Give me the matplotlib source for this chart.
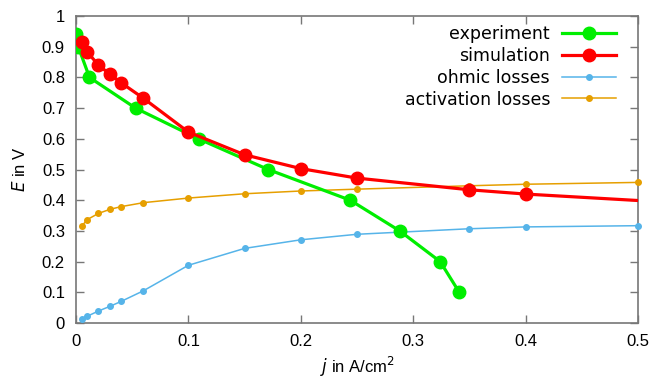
import matplotlib.pyplot as plt

# ----------------- Data -----------------
exp_j = [0.0, 0.002, 0.012, 0.053, 0.109, 0.171, 0.244, 0.288, 0.324, 0.341]
exp_E = [0.94, 0.90, 0.80, 0.70, 0.60, 0.50, 0.40, 0.30, 0.20, 0.10]

sim_j = [0.005, 0.01, 0.02, 0.03, 0.04, 0.06, 0.1, 0.15, 0.2, 0.25, 0.35, 0.4, 0.5]
sim_E = [0.915, 0.883, 0.840, 0.811, 0.783, 0.732, 0.622, 0.548, 0.503, 0.472, 0.434, 0.420, 0.399]

loss_j = [0.005, 0.01, 0.02, 0.03, 0.04, 0.06, 0.1, 0.15, 0.2, 0.25, 0.35, 0.4, 0.5]
ohmic = [0.012, 0.022, 0.039, 0.054, 0.070, 0.105, 0.188, 0.243, 0.271, 0.289, 0.307, 0.313, 0.317]
activation = [0.315, 0.337, 0.357, 0.370, 0.379, 0.392, 0.407, 0.421, 0.430, 0.436, 0.447, 0.452, 0.458]

xticks = [0, 0.1, 0.2, 0.3, 0.4, 0.5]
yticks = [0, 0.1, 0.2, 0.3, 0.4, 0.5, 0.6, 0.7, 0.8, 0.9, 1.0]

# ----------------- Plot -----------------
plt.rcParams['font.family'] = ['Liberation Sans', 'DejaVu Sans']
plt.rcParams['mathtext.fontset'] = 'dejavusans'

fig = plt.figure(figsize=(6.53, 3.82), dpi=100)
ax = fig.add_axes([0.1164, 0.1545, 0.8606, 0.8035])

ax.plot(exp_j, exp_E, color='#00ee00', lw=2.3, marker='o', ms=9,
        label='experiment', zorder=4)
ax.plot(sim_j, sim_E, color='#ff0000', lw=2.3, marker='o', ms=9,
        markevery=list(range(len(sim_j) - 1)), label='simulation', zorder=5)
ax.plot(loss_j, ohmic, color='#56b4e9', lw=1.1, marker='o', ms=4,
        label='ohmic losses', zorder=3, clip_on=False)
ax.plot(loss_j, activation, color='#e69f00', lw=1.1, marker='o', ms=4,
        label='activation losses', zorder=3, clip_on=False)

ax.set_xlim(0, 0.5)
ax.set_ylim(0, 1)
ax.set_xticks(xticks)
ax.set_yticks(yticks)
ax.set_xticklabels(['0', '0.1', '0.2', '0.3', '0.4', '0.5'])
ax.set_yticklabels(['0', '0.1', '0.2', '0.3', '0.4', '0.5', '0.6', '0.7', '0.8', '0.9', '1'])
ax.tick_params(direction='in', top=True, right=True, length=6, width=1,
               color='#777777', labelsize=12, pad=8)

for s in ax.spines.values():
    s.set_color('#777777')
    s.set_linewidth(1.2)

ax.set_xlabel(r'$j$ in A/cm$^2$', fontsize=12, labelpad=4)
ax.set_ylabel(r'$E$ in V', fontsize=12, labelpad=10)

leg = ax.legend(loc='upper right', markerfirst=False, frameon=False,
                handlelength=3.1, handletextpad=0.7, labelspacing=0.22,
                borderaxespad=0.12, bbox_to_anchor=(0.977, 1.0),
                prop={'family': 'DejaVu Sans', 'size': 12.5})

fig.savefig('out.png', dpi=100)
